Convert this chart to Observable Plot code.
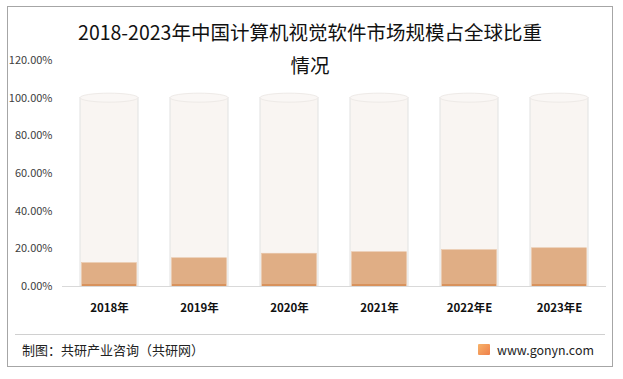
<!DOCTYPE html>
<html><head><meta charset="utf-8">
<script src="https://cdn.jsdelivr.net/npm/d3@7"></script>
<script src="https://cdn.jsdelivr.net/npm/@observablehq/plot@0.6"></script>
<style>
html,body{margin:0;padding:0;background:#fff;}
#wrap{position:relative;width:623px;height:379px;overflow:hidden;font-family:"Noto Sans CJK SC","Noto Sans",sans-serif;}
#frame{position:absolute;left:7px;top:6px;width:606px;height:361px;border:1px solid #a6a6a6;box-sizing:border-box;pointer-events:none;}
#title{position:absolute;left:20px;width:580px;top:15px;text-align:center;font-size:19.5px;line-height:33px;color:#111;}
#chart{position:absolute;left:0;top:0;}
#sep{position:absolute;left:15px;width:590px;top:334px;border-top:1px solid #d0d0d0;}
#src{position:absolute;left:22px;top:340px;font-size:13px;color:#222;}
#url{position:absolute;left:497px;top:341px;font-size:12.4px;color:#222;}
#logo{position:absolute;left:478px;top:344px;width:12px;height:11px;background:linear-gradient(135deg,#f7b36a,#ef7f4a);border-radius:1px;}
</style></head>
<body><div id="wrap">
<div id="chart"></div>
<div id="title">2018-2023年中国计算机视觉软件市场规模占全球比重<br>情况</div>
<div id="sep"></div>
<div id="src">制图：共研产业咨询（共研网）</div>
<div id="logo"></div>
<div id="url">www.gonyn.com</div>
<div id="frame"></div>
</div>
<script>
const years = ["2018年","2019年","2020年","2021年","2022年E","2023年E"];
const shares = [0.124, 0.150, 0.174, 0.182, 0.193, 0.203];
const totals = [1, 1, 1, 1, 1, 1];
const yTicks = [0, 0.2, 0.4, 0.6, 0.8, 1.0, 1.2];

const data = years.map((y, i) => ({year: y, share: shares[i], total: totals[i]}));

const chart = Plot.plot({
  width: 623,
  height: 379,
  marginLeft: 62,
  marginRight: 17,
  marginTop: 60,
  marginBottom: 93,
  style: {fontFamily: '"Noto Sans CJK SC","Noto Sans",sans-serif', background: "transparent", overflow: "visible"},
  x: {domain: years, paddingInner: 0.36, paddingOuter: 0.18, label: null},
  y: {domain: [0, 1.2], label: null},
  marks: [
    Plot.barY(data, {x: "year", y: "total", fill: "#f9f5f2", stroke: "#e4e4e4", strokeWidth: 1.1}),
    Plot.barY(data, {x: "year", y1: "total", y2: "total", insetTop: -4.5, insetBottom: -4.5, rx: 100, ry: 4.5, fill: "#faf7f5", stroke: "#eeeae7", strokeWidth: 1}),
    Plot.barY(data, {x: "year", y: "share", fill: "#e0ae85", insetLeft: 1.5, insetRight: 1.5, stroke: "#e9c7aa", strokeWidth: 0.6}),
    Plot.barY(data, {x: "year", y1: 0, y2: 0, insetTop: -2, insetLeft: 2, insetRight: 2, fill: "#d8925c"}),
    Plot.ruleY([0], {stroke: "#d9d9d9", strokeWidth: 1}),
    Plot.axisY({ticks: yTicks, tickFormat: d => (d * 100).toFixed(2) + "%", tickSize: 0, tickPadding: 10, fontSize: 11, fill: "#404040"}),
    Plot.axisX({tickSize: 0, tickPadding: 17, fontSize: 11.5, fontWeight: "bold", fill: "#111"})
  ]
});
document.getElementById("chart").appendChild(chart);
</script>
</body></html>
